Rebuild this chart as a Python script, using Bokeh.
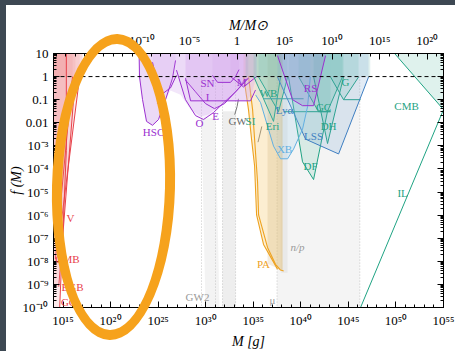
import numpy as np
from bokeh.plotting import figure
from bokeh.models import (LogAxis, FixedTicker, CustomJSTickFormatter, Label,
                          Span, InlineStyleSheet)
from bokeh.embed import file_html
from bokeh.resources import INLINE

MSUN = 1.989e33
FONT = "Liberation Serif"

# ---------------- axis ticks (exponents) ----------------
x_major_exp = [15, 20, 25, 30, 35, 40, 45, 50, 55]
x_minor_exp = list(range(14, 56))
y_major_exp = list(range(-10, 2))
top_major_exp = [-10, -5, 0, 5, 10, 15, 20]
top_minor_exp = list(range(-19, 22))

# ---------------- constraints: log10(M/g), log10(f) ----------------
# evaporation (red)
red_V_m = [16.75, 14.85];          red_V_f = [0.0, -6.2]
red_EGB_m = [16.3, 14.55];         red_EGB_f = [0.0, -9.1]
red_CMB_m = [16.0, 14.2];          red_CMB_f = [0.0, -7.9]
red_GC_m = [15.35, 15.35, 14.65];  red_GC_f = [1.0, -3.2, -10.0]
red_top_m = [14.0, 17.05, 17.05, 14.0]; red_top_f = [1.0, 1.0, 0.0, 0.0]

# lensing (purple)
HSC_m = [23.0, 23.04, 23.36, 23.78, 24.41, 25.04, 25.78, 26.51, 26.83]
HSC_f = [1.0, 0.0, -1.0, -1.94, -2.11, -1.86, -1.0, -0.07, 0.7]
K_m = [24.41, 24.94, 25.57, 26.30, 26.93]
K_f = [0.62, -0.36, -0.71, -0.49, 0.06]
O_m = [26.93, 27.88, 28.93, 29.77, 30.82, 31.77, 33.14, 34.50]
O_f = [0.28, -1.0, -1.69, -1.86, -1.56, -1.18, -0.66, -0.07]
E_m = [27.88, 28.93, 29.98, 30.93, 31.98, 33.14, 34.40]
E_f = [-0.15, -0.66, -1.17, -1.39, -1.17, -0.66, -0.07]
I_m = [27.88, 28.41, 34.71, 35.24]
I_f = [-0.07, -1.05, -1.05, -0.58]
SN_m = [30.72, 31.25, 32.61, 33.14, 33.5]
SN_f = [0.05, -0.25, -0.25, 0.0, 0.3]
M_m = [32.61, 33.98, 35.35]
M_f = [0.0, -0.45, 0.0]
RS_m = [37.55, 39.13, 40.18, 41.34, 42.60]
RS_f = [0.91, -1.0, -1.26, -1.26, 0.91]
# lower envelope of all lensing bounds
lens_env_m = [22.94, 23.04, 23.36, 23.78, 24.41, 25.04, 25.78, 26.3, 27.35,
              28.41, 29.46, 30.3, 31.35, 32.09, 32.61, 34.40, 34.93, 35.35, 35.35]
lens_env_f = [1.0, 0.0, -1.0, -1.94, -2.11, -1.86, -1.0, -0.6, -0.79,
              -1.43, -1.73, -1.64, -1.26, -1.05, -1.05, -1.05, -0.6, 0.0, 1.0]

# gravitational waves / CMB distortions (gray)
GW2_m = [29.56, 31.03, 31.45, 29.98];  GW2_f = [-1.8, -1.8, -10.0, -10.0]
GWb_m = [31.77, 33.14, 33.14, 31.77];  GWb_f = [-1.5, -1.5, -10.0, -10.0]
MU_m = [37.5, 46.2, 46.2, 37.5];       MU_f = [0.0, 0.0, -10.0, -10.0]
NP_m = [37.9, 38.6, 38.6, 37.9];       NP_f = [0.0, 0.0, -8.5, -8.5]
GW_m = [33.45, 33.3, 33.05];           GW_f = [-0.96, -1.3, -1.65]
GWx_m = [35.9, 35.5];                  GWx_f = [-2.16, -2.84]

# accretion (orange)
PA1_m = [33.98, 34.50, 34.82, 35.14, 35.35, 36.08, 37.03, 37.55]
PA1_f = [0.02, -1.43, -2.71, -3.86, -5.99, -7.27, -7.96, -8.34]
PA2_m = [34.50, 34.93, 35.14, 35.45, 35.56, 36.50, 37.34, 37.87, 38.2]
PA2_f = [0.02, -1.43, -2.71, -4.54, -5.99, -7.40, -8.13, -8.38, -8.42]

# dynamical (teal)
Eri_m = [35.03, 37.13, 37.87];   Eri_f = [0.02, -1.94, -0.02]
WB_m = [35.56, 37.66, 38.61];    WB_f = [-0.02, -1.52, -0.02]
Lya_m = [36.08, 40.29];          Lya_f = [-0.96, -0.96]
GC_m = [39.76, 41.86, 43.13];    GC_f = [0.0, -1.52, -1.52]
GCh_m = [38.19, 43.13];          GCh_f = [-1.52, -1.52]
DF_m = [38.71, 40.18, 41.34, 42.81, 44.39]
DF_f = [-0.02, -3.69, -4.46, -1.5, 0.0]
DH_m = [41.34, 42.81, 44.5];     DH_f = [0.0, -2.9, 0.0]
G_m = [43.13, 44.49, 46.07];     G_f = [-0.02, -1.0, -0.02]
Gh_m = [44.49, 46.28];           Gh_f = [-1.0, -1.0]
CMBd_m = [49.86, 55.0];          CMBd_f = [1.0, -1.43]
IL_m = [46.28, 55.0];            IL_f = [-10.0, -1.43]
dyn_top_m = [34.2, 47.3, 47.3, 34.2]; dyn_top_f = [1.0, 1.0, 0.0, 0.0]

# large-scale / X-ray (blue)
LSS_m = [37.55, 40.50, 43.97, 47.12]
LSS_f = [-0.02, -2.71, -3.35, -0.02]
XB_m = [35.24, 35.77, 37.13, 37.87, 38.61, 39.24, 40.18, 40.71, 41.0]
XB_f = [-0.79, -1.13, -3.01, -3.56, -3.56, -3.14, -2.28, -1.30, 0.0]

# labels: text, log10 M, log10 f, colour
RED, PURPLE, TEAL, BLUE, LBLUE, ORANGE, GRAY = (
    "#e8414a", "#9b30d0", "#1fa383", "#3f7fc2", "#62b0e2", "#eea21f", "#9a9a9a")
labels = [
    ("V", 15.79, -6.12, RED), ("CMB", 15.47, -7.91, RED),
    ("EGB", 16.0, -9.11, RED), ("GC", 15.58, -9.75, RED),
    ("HSC", 24.52, -2.41, PURPLE), ("K", 25.25, -1.0, PURPLE),
    ("O", 29.35, -1.99, PURPLE), ("E", 31.03, -1.69, PURPLE),
    ("I", 30.19, -0.88, PURPLE), ("SN", 30.19, -0.28, PURPLE),
    ("M", 33.77, -0.24, PURPLE), ("RS", 41.02, -0.49, PURPLE),
    ("GW", 33.35, -1.94, "#666666"), ("GW2", 29.14, -9.53, GRAY),
    ("μ", 37.03, -9.66, GRAY), ("n/p", 39.66, -7.40, GRAY),
    ("SI", 34.71, -1.94, TEAL), ("WB", 36.61, -0.71, TEAL),
    ("Eri", 37.03, -2.16, TEAL), ("GC", 42.39, -1.30, TEAL),
    ("DH", 42.92, -2.16, TEAL), ("G", 44.70, -0.24, TEAL),
    ("DF", 41.02, -3.86, TEAL), ("CMB", 51.12, -1.26, TEAL),
    ("IL", 50.70, -5.06, TEAL),
    ("Lyα", 38.29, -1.43, BLUE), ("LSS", 41.34, -2.58, BLUE),
    ("XB", 38.29, -3.14, LBLUE), ("PA", 36.08, -8.13, ORANGE),
]


def pw(a):
    return list(10.0 ** np.asarray(a, dtype=float))


# page decoration of the screenshot: hand-drawn highlight ring + dark window edge
deco = InlineStyleSheet(css="""
:host { position: relative; }
:host::after {
  content: ""; position: absolute; z-index: 50; pointer-events: none;
  left: 52px; top: 34px; width: 123px; height: 306px;
  box-sizing: border-box; border: 10px solid #f6a21c; border-radius: 50%;
  transform: rotate(1.5deg);
}
:host::before {
  content: ""; position: absolute; z-index: 49; pointer-events: none;
  left: 0px; top: 0px; width: 455px; height: 351px; box-sizing: border-box;
  border-left: 6px solid #3d4853; border-top: 5px solid #3d4853;
}
""")

p = figure(width=455, height=351, x_axis_type="log", y_axis_type="log",
           x_range=(1e14, 1e55), y_range=(1e-10, 10),
           output_backend="svg", toolbar_location=None,
           min_border_left=53, min_border_top=53,
           min_border_right=12, min_border_bottom=40,
           stylesheets=[deco])
p.xgrid.visible = False
p.ygrid.visible = False
p.outline_line_color = "black"
p.outline_line_width = 1
p.background_fill_color = "white"
p.border_fill_color = "white"


def above(m, f, color, alpha):
    xs = list(m) + [m[-1], m[0]]
    ys = list(f) + [1.0, 1.0]
    p.patch(pw(xs), pw(ys), fill_color=color, fill_alpha=alpha, line_color=None)


def left_of(m, f, color, alpha):
    xs = list(m) + [14.0, 14.0, m[0]]
    ys = list(f) + [f[-1], 1.0, 1.0]
    p.patch(pw(xs), pw(ys), fill_color=color, fill_alpha=alpha, line_color=None)


def region(m, f, color, alpha):
    p.patch(pw(m), pw(f), fill_color=color, fill_alpha=alpha, line_color=None)


def curve(m, f, color, width=1.0, dash="solid"):
    p.line(pw(m), pw(f), line_color=color, line_width=width, line_dash=dash)


# gray regions
region(MU_m, MU_f, "#e0e0e0", 0.35)
region(NP_m, NP_f, "#c8c8c8", 0.25)
region(GW2_m, GW2_f, "#d8d8d8", 0.3)
region(GWb_m, GWb_f, "#cfcfcf", 0.35)
for xm in (MU_m[0], MU_m[1], GW2_m[0], GW2_m[1], GWb_m[0], GWb_m[1]):
    p.line(pw([xm, xm]), pw([0.0, -10.0]), line_color="#b8b8b8",
           line_width=0.8, line_dash="1 2")
curve(GW_m, GW_f, "#777777")
curve(GWx_m, GWx_f, "#777777")

# accretion (orange)
region(PA1_m + [38.08, 38.08, 33.98], PA1_f + [-8.4, 1.0, 1.0], "#f5cf7a", 0.35)
region([36.5, 38.08, 38.08, 36.5], [1.0, 1.0, -8.4, -8.1], "#c9a86a", 0.22)
curve(PA1_m, PA1_f, ORANGE, 1.1)
curve(PA2_m, PA2_f, ORANGE, 1.1)

# evaporation (red)
region(red_top_m, red_top_f, "#f08a90", 0.3)
for m, f in ((red_V_m, red_V_f), (red_EGB_m, red_EGB_f),
             (red_CMB_m, red_CMB_f), (red_GC_m, red_GC_f)):
    left_of(m, f, "#f08a90", 0.18)
    curve(m, f, RED, 1.0)

# lensing (purple)
region(lens_env_m, lens_env_f, "#d9b6f0", 0.35)
for m, f in ((HSC_m, HSC_f), (K_m, K_f), (O_m, O_f), (E_m, E_f),
             (I_m, I_f), (SN_m, SN_f), (M_m, M_f)):
    above(m, f, "#c68be9", 0.13)
    curve(m, f, PURPLE, 1.0)

# dynamical (teal) and blue
region(dyn_top_m, dyn_top_f, "#6fb7ad", 0.2)
for m, f in ((Eri_m, Eri_f), (WB_m, WB_f), (GC_m, GC_f), (DF_m, DF_f),
             (DH_m, DH_f), (G_m, G_f)):
    above(m, f, "#4fb89c", 0.17)
    curve(m, f, TEAL, 1.0)
curve(GCh_m, GCh_f, TEAL, 1.0)
curve(Gh_m, Gh_f, TEAL, 1.0)
curve(Lya_m, Lya_f, "#2f9c9a", 1.0)
above(LSS_m, LSS_f, "#6f9fd2", 0.2)
curve(LSS_m, LSS_f, BLUE, 1.0)
above(XB_m, XB_f, "#8cc6ea", 0.2)
curve(XB_m, XB_f, LBLUE, 1.0)
above(RS_m, RS_f, "#8a78cc", 0.25)
curve(RS_m, RS_f, PURPLE, 1.0)
region(CMBd_m + [55.0], CMBd_f + [1.0], "#bfe6dc", 0.5)
curve(CMBd_m, CMBd_f, TEAL, 1.0)
curve(IL_m, IL_f, TEAL, 1.0)

# f = 1 line
p.add_layout(Span(location=1.0, dimension="width", line_color="black",
                  line_width=1, line_dash="4 3"))

for txt, lm, lf, col in labels:
    p.add_layout(Label(x=10 ** lm, y=10 ** lf, text=txt, text_color=col,
                       text_font=FONT, text_font_size="11px",
                       text_align="center", text_baseline="middle",
                       text_font_style="italic" if txt == "n/p" else "normal"))

# ---------------- axes ----------------
SUP_JS = """
const sup = {"0":"\u2070","1":"\u00b9","2":"\u00b2","3":"\u00b3","4":"\u2074",
             "5":"\u2075","6":"\u2076","7":"\u2077","8":"\u2078","9":"\u2079","-":"\u207b"};
function s(e) { return "10" + String(e).split("").map(c => sup[c]).join(""); }
"""

bottom_fmt = CustomJSTickFormatter(code=SUP_JS + """
const e = Math.round(Math.log10(tick)); return s(e);""")
left_fmt = CustomJSTickFormatter(code=SUP_JS + """
const e = Math.round(Math.log10(tick));
if (e == 1) return "10"; if (e == 0) return "1";
if (e == -1) return "0.1"; if (e == -2) return "0.01";
return s(e);""")
top_fmt = CustomJSTickFormatter(code=SUP_JS + """
const e = Math.round(Math.log10(tick / 1.989e33));
if (e == 0) return "1"; return s(e);""")
blank_fmt = CustomJSTickFormatter(code="return '';")

xt = FixedTicker(ticks=[10.0 ** e for e in x_major_exp],
                 minor_ticks=[10.0 ** e for e in x_minor_exp])
yt = FixedTicker(ticks=[10.0 ** e for e in y_major_exp],
                 minor_ticks=[k * 10.0 ** e for e in range(-10, 1) for k in range(2, 10)])
tt = FixedTicker(ticks=[MSUN * 10.0 ** e for e in top_major_exp],
                 minor_ticks=[MSUN * 10.0 ** e for e in top_minor_exp])


def style(ax, fmt, standoff, title=None, title_standoff=0):
    ax.formatter = fmt
    ax.major_tick_in = 6
    ax.major_tick_out = 0
    ax.minor_tick_in = 3
    ax.minor_tick_out = 0
    ax.axis_line_color = "black"
    ax.major_tick_line_color = "black"
    ax.minor_tick_line_color = "black"
    ax.major_label_text_font = FONT
    ax.major_label_text_font_size = "13px"
    ax.major_label_text_color = "black"
    ax.major_label_standoff = standoff
    if title is not None:
        ax.axis_label = title
        ax.axis_label_text_font = FONT
        ax.axis_label_text_font_size = "14px"
        ax.axis_label_text_font_style = "italic"
        ax.axis_label_text_color = "black"
        ax.axis_label_standoff = title_standoff


p.xaxis.ticker = xt
style(p.xaxis[0], bottom_fmt, 5, "M [g]", 3)
p.yaxis.ticker = yt
style(p.yaxis[0], left_fmt, 5, "f (M)", -4)

top = LogAxis(ticker=tt)
style(top, top_fmt, 6, "M/M\u2299", -3)
p.add_layout(top, "above")
right = LogAxis(ticker=FixedTicker(ticks=yt.ticks, minor_ticks=yt.minor_ticks))
style(right, blank_fmt, 0)
p.add_layout(right, "right")

with open("out.html", "w", encoding="utf-8") as fh:
    fh.write(file_html(p, INLINE))
